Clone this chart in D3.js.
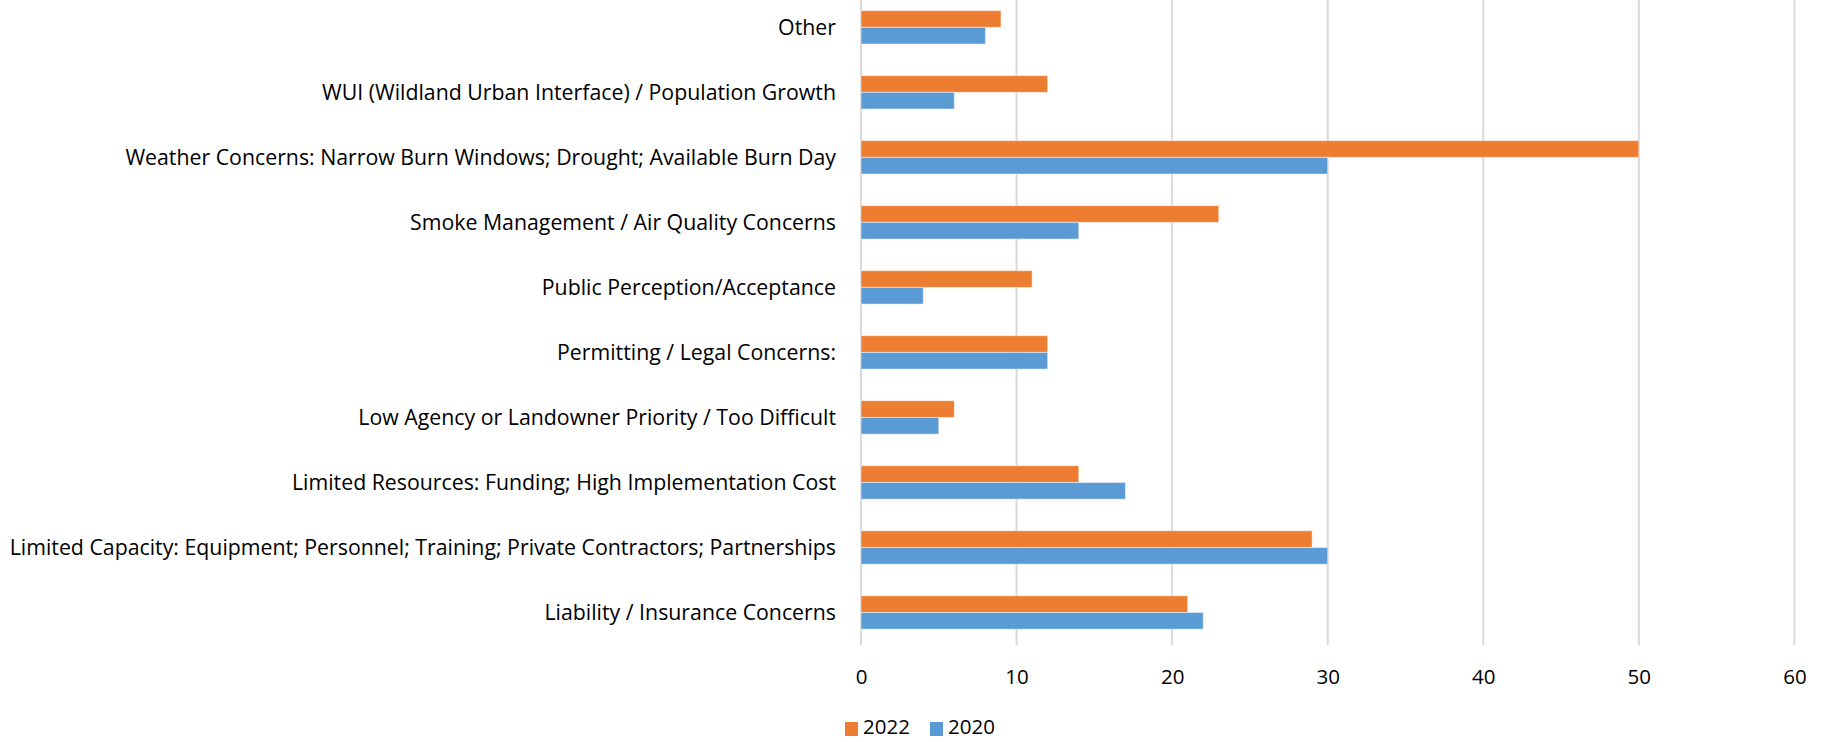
<!DOCTYPE html>
<html>
<head>
<meta charset="utf-8">
<script src="https://cdn.jsdelivr.net/npm/d3@7"></script>
<style>
  body { margin: 0; background: #fff; }
  text { font-family: "Open Sans", Lato, sans-serif; fill: #000; }
</style>
</head>
<body>
<svg></svg>
<script>
// chart size
let svgWidth = 1839;
let svgHeight = 742;

// data (top to bottom as shown)
let categories = [
  "Other",
  "WUI (Wildland Urban Interface) / Population Growth",
  "Weather Concerns: Narrow Burn Windows; Drought; Available Burn Day",
  "Smoke Management / Air Quality Concerns",
  "Public Perception/Acceptance",
  "Permitting / Legal Concerns:",
  "Low Agency or Landowner Priority / Too Difficult",
  "Limited Resources: Funding; High Implementation Cost",
  "Limited Capacity: Equipment; Personnel; Training; Private Contractors; Partnerships",
  "Liability / Insurance Concerns"
];
let seriesNames = ["2022", "2020"];
let values2022 = [9, 12, 50, 23, 11, 12, 6, 14, 29, 21];
let values2020 = [8, 6, 30, 14, 4, 12, 5, 17, 30, 22];
let xTicks = [0, 10, 20, 30, 40, 50, 60];
let colors = ["#ED7D31", "#5B9BD5"];

let svg = d3.select("svg")
  .attr("width", svgWidth)
  .attr("height", svgHeight);

let plotLeft = 861, plotRight = 1794.4;
let plotTop = -5.2, plotBottom = 645;

let x = d3.scaleLinear().domain([0, 60]).range([plotLeft, plotRight]);

let y = d3.scaleBand()
  .domain(categories)
  .range([plotTop, plotBottom])
  .paddingInner(0.486)
  .paddingOuter(0.243);

let ySub = d3.scaleBand()
  .domain(seriesNames)
  .range([0, y.bandwidth()]);

// gridlines
svg.append("g")
  .selectAll("line")
  .data(xTicks)
  .enter()
  .append("line")
  .attr("x1", d => x(d))
  .attr("x2", d => x(d))
  .attr("y1", plotTop)
  .attr("y2", plotBottom)
  .attr("stroke", "#D9D9D9")
  .attr("stroke-width", 2);

// bars
let rows = categories.map((c, i) => ({
  cat: c,
  vals: [values2022[i], values2020[i]]
}));

let groups = svg.append("g")
  .selectAll("g")
  .data(rows)
  .enter()
  .append("g")
  .attr("transform", d => "translate(0," + y(d.cat) + ")");

groups.selectAll("rect")
  .data(d => d.vals.map((v, j) => ({ name: seriesNames[j], v: v, j: j })))
  .enter()
  .append("rect")
  .attr("x", x(0))
  .attr("y", d => ySub(d.name))
  .attr("width", d => x(d.v) - x(0))
  .attr("height", ySub.bandwidth())
  .attr("fill", d => colors[d.j])
  .attr("stroke", "#ffffff")
  .attr("stroke-opacity", 0.5)
  .attr("stroke-width", 1);

// category labels
svg.append("g")
  .selectAll("text")
  .data(categories)
  .enter()
  .append("text")
  .attr("x", plotLeft - 25)
  .attr("y", d => y(d) + y.bandwidth() / 2)
  .attr("dy", "0.35em")
  .attr("text-anchor", "end")
  .style("font-size", "21.3px")
  .text(d => d);

// x axis labels
let xAxis = d3.axisBottom(x).tickValues(xTicks).tickSize(0).tickPadding(0);
let gx = svg.append("g")
  .attr("transform", "translate(0,677)")
  .call(xAxis);
gx.select(".domain").remove();
gx.selectAll("text")
  .attr("dy", "0.35em")
  .style("font-size", "20.5px")
  .style("font-family", "'Open Sans', sans-serif")
  .attr("fill", "#000");

// legend
let legend = svg.append("g").attr("transform", "translate(845,728)");
let legendX = [0, 85];
let items = legend.selectAll("g")
  .data(seriesNames)
  .enter()
  .append("g")
  .attr("transform", (d, i) => "translate(" + legendX[i] + ",0)");
items.append("rect")
  .attr("x", 0)
  .attr("y", -6)
  .attr("width", 13)
  .attr("height", 14)
  .attr("fill", (d, i) => colors[i]);
items.append("text")
  .attr("x", 18)
  .attr("dy", "0.3em")
  .style("font-size", "20.5px")
  .text(d => d);
</script>
</body>
</html>
